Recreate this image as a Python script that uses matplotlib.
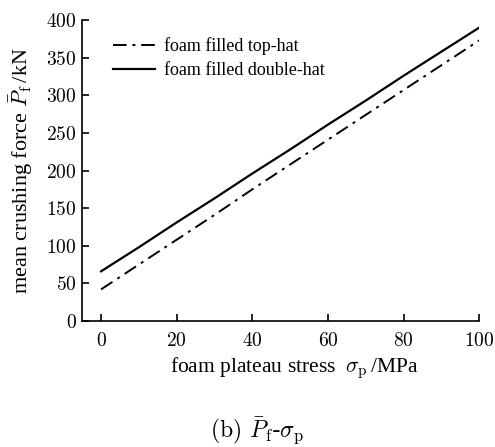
import numpy as np
import matplotlib.pyplot as plt

plt.rcParams['font.family'] = 'cmr10'
plt.rcParams['mathtext.fontset'] = 'cm'
plt.rcParams['axes.formatter.use_mathtext'] = True

# data
stress = [0, 10, 20, 30, 40, 50, 60, 70, 80, 90, 100]
top_hat = [42, 75, 108, 141, 175, 208, 241, 274, 307, 340, 373]
double_hat = [66, 98, 131, 163, 196, 228, 261, 293, 326, 358, 390]

fig = plt.figure(figsize=(4.95, 4.47), dpi=100)
ax = fig.add_axes([0.166, 0.282, 0.802, 0.673])

ax.plot(stress, top_hat, color='black', linestyle=(0, (7, 3, 1.5, 3)), linewidth=1.4,
        label='foam filled top-hat')
ax.plot(stress, double_hat, color='black', linestyle='-', linewidth=1.6,
        label='foam filled double-hat')

ax.set_xlim(-5, 100)
ax.set_ylim(0, 400)
ax.set_xticks([0, 20, 40, 60, 80, 100])
ax.set_yticks([0, 50, 100, 150, 200, 250, 300, 350, 400])
ax.spines['top'].set_visible(False)
ax.spines['right'].set_visible(False)
ax.spines['left'].set_linewidth(1.2)
ax.spines['bottom'].set_linewidth(1.2)
ax.tick_params(direction='in', length=5, width=1.2, labelsize=14)
ax.tick_params(axis='y', pad=4)
ax.tick_params(axis='x', pad=8)

ax.set_xlabel(r'foam plateau stress  $\sigma_\mathrm{p}\,$/MPa', fontsize=15.5,
              family='Liberation Serif')
ax.xaxis.set_label_coords(0.534, -0.115)
ax.set_ylabel(r'mean crushing force $\bar{P}_\mathrm{f}\,$/kN', fontsize=16,
              family='Liberation Serif', labelpad=8)

leg = ax.legend(loc='upper left', bbox_to_anchor=(0.037, 0.997), frameon=False,
                prop={'family': 'Liberation Serif', 'size': 13},
                handlelength=2.3, handletextpad=0.5, labelspacing=0.4)

fig.text(0.52, 0.02, r'(b) $\bar{P}_\mathrm{f}$-$\sigma_\mathrm{p}$', ha='center',
         fontsize=17)

fig.savefig('out.png', dpi=100)
